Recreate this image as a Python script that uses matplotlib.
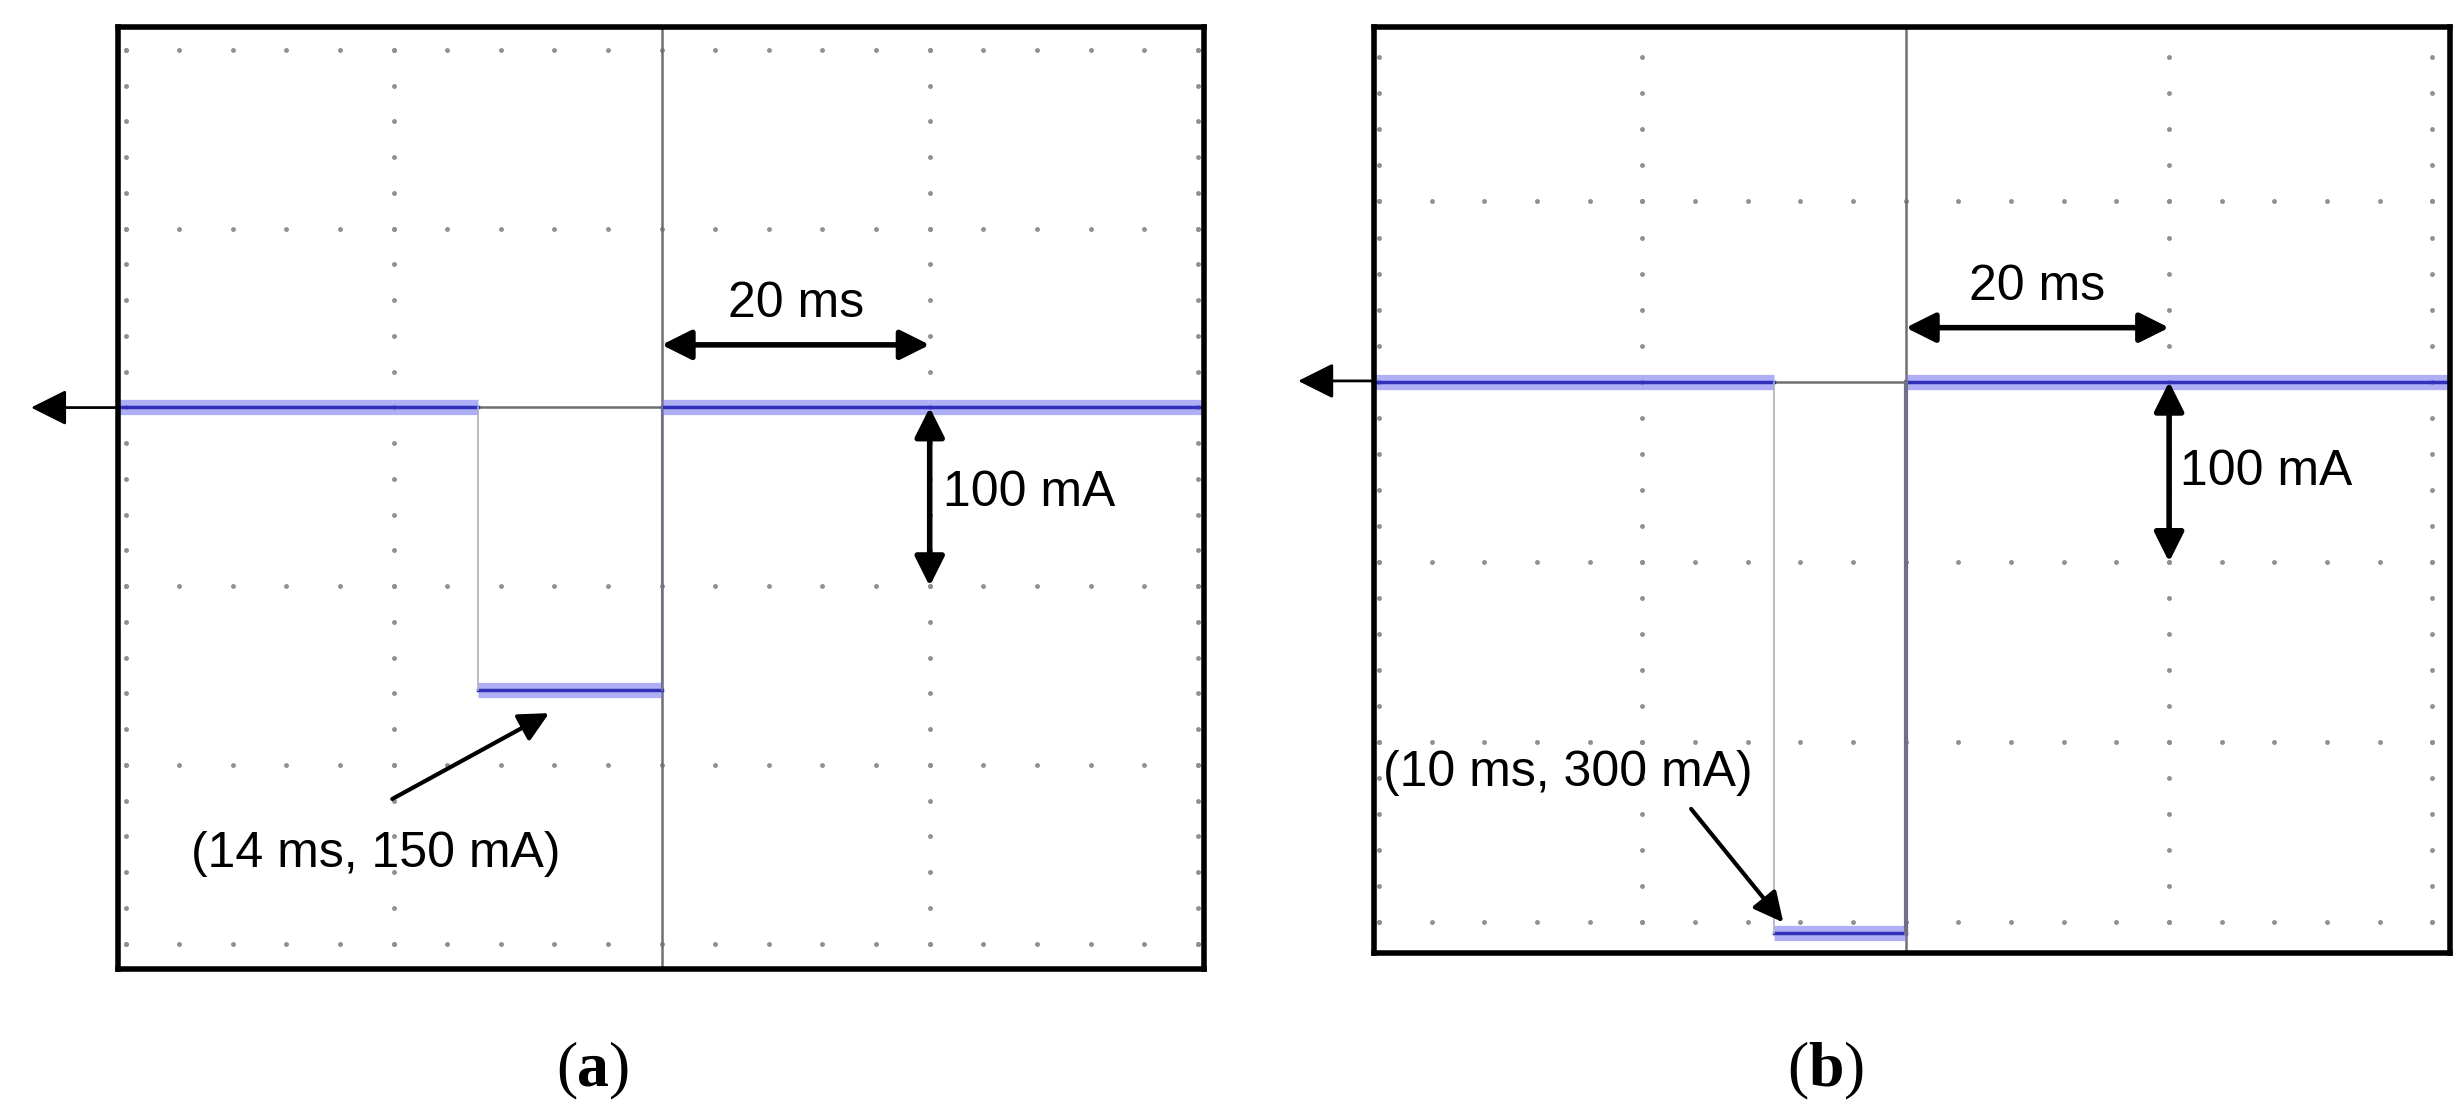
import matplotlib
matplotlib.use("Agg")
import matplotlib.pyplot as plt
import numpy as np

# data (ms, mA)
a_t = [-40.6, -13.7, -13.7, 0.0, 0.0, 40.5]
a_i = [0, 0, -158, -158, 0, 0]
b_t = [-40.4, -10.0, -10.0, 0.0, 0.0, 41.3]
b_i = [0, 0, -306, -306, 0, 0]

W, H = 1568, 710
fig = plt.figure(figsize=(24.59, 11.13), dpi=100)
plt.rcParams['font.family'] = ['Liberation Sans', 'DejaVu Sans']

def make_ax(x0, y0, x1, y1):
    return fig.add_axes([x0 / W, 1 - y1 / H, (x1 - x0) / W, (y1 - y0) / H])

def grid(ax, xl, yl):
    ax.set_xlim(*xl); ax.set_ylim(*yl)
    ax.set_xticks([]); ax.set_yticks([])
    for s in ax.spines.values():
        s.set_linewidth(4); s.set_color('black')
    xs_major = np.arange(-40, 41, 20)
    ys_major = np.arange(-300, 201, 100)
    dx = np.arange(-44, 45, 4.0)
    dy = np.arange(-320, 221, 20.0)
    for xm in xs_major:
        if xm == 0:
            continue
        ax.plot(np.full_like(dy, xm), dy, ls='none', marker='.', ms=5, color='#909090')
    for ym in ys_major:
        if ym == 0:
            continue
        ax.plot(dx, np.full_like(dx, ym), ls='none', marker='.', ms=5, color='#909090')
    ax.axvline(0, color='#707070', lw=1.8)
    ax.axhline(0, color='#707070', lw=1.8)

def trace(ax, t, i, dark_last):
    t = np.array(t); i = np.array(i)
    for k in range(0, len(t), 2):
        ax.plot(t[k:k+2], i[k:k+2], color='#7a7af0', lw=11, alpha=0.6, solid_capstyle='butt')
        ax.plot(t[k:k+2], i[k:k+2], color='#3030b8', lw=2.5)
    ax.plot(t[1:3], i[1:3], color='#b0b0c0', lw=1.2)
    ax.plot(t[3:5], i[3:5], color='#707088', lw=3 if dark_last else 1.5)

fs = 36
arr = dict(arrowstyle='<|-|>', color='black', lw=4, mutation_scale=45, shrinkA=0, shrinkB=0)
one = dict(arrowstyle='-|>', color='black', lw=3, mutation_scale=45, shrinkA=0, shrinkB=0)

# panel a
ax = make_ax(75, 17, 768, 618)
grid(ax, (-40.6, 40.5), (-314, 213))
trace(ax, a_t, a_i, False)
ax.annotate('', xy=(20, 35), xytext=(0, 35), arrowprops=arr)
ax.text(10, 45, '20 ms', ha='center', va='bottom', fontsize=fs)
ax.annotate('', xy=(20, -100), xytext=(20, 0), arrowprops=arr)
ax.text(21, -48, '100 mA', ha='left', va='center', fontsize=fs)
ax.annotate('', xy=(-8.4, -171), xytext=(-20.1, -219), arrowprops=one)
ax.text(-21.3, -250, '(14 ms, 150 mA)', ha='center', va='center', fontsize=fs)
fig.add_artist(matplotlib.patches.FancyArrowPatch((75 / W, 1 - 260 / H), (18 / W, 1 - 260 / H),
               transform=fig.transFigure, arrowstyle='-|>', mutation_scale=55, color='black', lw=2))

# panel b
ax = make_ax(876, 17, 1562, 608)
grid(ax, (-40.4, 41.3), (-317, 197))
trace(ax, b_t, b_i, True)
ax.annotate('', xy=(20, 30), xytext=(0, 30), arrowprops=arr)
ax.text(10, 40, '20 ms', ha='center', va='bottom', fontsize=fs)
ax.annotate('', xy=(20, -100), xytext=(20, 0), arrowprops=arr)
ax.text(20.8, -50, '100 mA', ha='left', va='center', fontsize=fs)
ax.annotate('', xy=(-9.3, -300), xytext=(-16.3, -237), arrowprops=one)
ax.text(-25.7, -217, '(10 ms, 300 mA)', ha='center', va='center', fontsize=fs)
fig.add_artist(matplotlib.patches.FancyArrowPatch((876 / W, 1 - 243 / H), (826 / W, 1 - 243 / H),
               transform=fig.transFigure, arrowstyle='-|>', mutation_scale=55, color='black', lw=2))

for x, lab in [(368, 'a'), (1153, 'b')]:
    fig.text(x / W, 1 - 683 / H, '(', fontsize=46, family='Liberation Serif', ha='right', va='center')
    fig.text(x / W, 1 - 683 / H, lab, fontsize=46, family='Liberation Serif', weight='bold', ha='left', va='center')

fig.canvas.draw()
r = fig.canvas.get_renderer()
texts = [t for t in fig.texts]
for k in range(0, len(texts), 2):
    bb = texts[k + 1].get_window_extent(r)
    fig.text(bb.x1 / fig.bbox.width, 1 - 683 / H, ')', fontsize=46, family='Liberation Serif', ha='left', va='center')

fig.savefig('out.png', dpi=100)
